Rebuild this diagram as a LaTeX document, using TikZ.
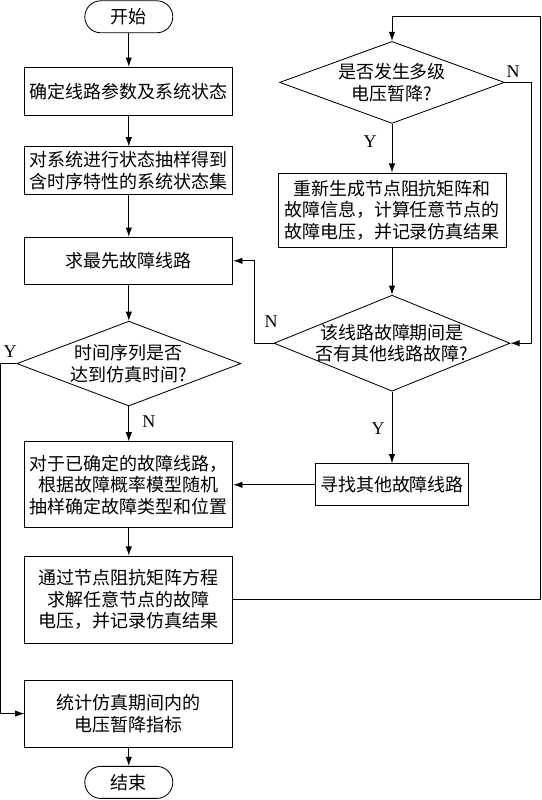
\documentclass[tikz,border=0pt]{standalone}
\usepackage{fontspec}
\setmainfont{Liberation Serif}
\newfontfamily\cjk{Noto Sans CJK SC}
\usepackage{tikz}
\usetikzlibrary{arrows,arrows.meta,shapes,positioning,calc}

\begin{document}
\begin{tikzpicture}[>={Latex[length=2.3mm,width=1.6mm]},line width=0.6pt,
	box/.style={shape=rectangle,draw=black,align=center,inner sep=1pt,font=\cjk\fontsize{12.8}{15.4}\selectfont},
	term/.style={shape=rectangle,draw=black,rounded corners=0.4cm,minimum width=2.2cm,minimum height=0.8cm,font=\cjk\fontsize{12.8}{15.4}\selectfont},
	dec/.style={shape=diamond,draw=black,align=center,inner sep=-0.05cm,font=\cjk\fontsize{12.8}{15.4}\selectfont},
	lbl/.style={inner sep=0pt,font=\fontsize{12.8}{15}\selectfont}]
	\useasboundingbox (0,0) rectangle (13.55,-20);
	% main column
	\node[term](start) at (3.22,-0.42) {开始};
	\node[box,minimum width=5.2cm,minimum height=1.2cm](param) at (3.22,-2.28) {确定线路参数及系统状态};
	\node[box,minimum width=5.2cm,minimum height=1.18cm](sample) at (3.22,-4.26) {对系统进行状态抽样得到\\含时序特性的系统状态集};
	\node[box,minimum width=5.2cm,minimum height=1.18cm](first) at (3.22,-6.52) {求最先故障线路};
	\node[dec,aspect=2.64,minimum width=5.6cm,minimum height=2.12cm](timeok) at (3.22,-9.09) {时间序列是否\\达到仿真时间?};
	\node[box,minimum width=5.2cm,minimum height=2.15cm](fsample) at (3.22,-12.12) {对于已确定的故障线路，\\根据故障概率模型随机\\抽样确定故障类型和位置};
	\node[box,minimum width=5.2cm,minimum height=2.18cm](solve) at (3.22,-14.99) {通过节点阻抗矩阵方程\\求解任意节点的故障\\电压，并记录仿真结果};
	\node[box,minimum width=5.2cm,minimum height=1.68cm](stat) at (3.22,-17.84) {统计仿真期间内的\\电压暂降指标};
	\node[term](stop) at (3.22,-19.56) {结束};
	% right column
	\node[dec,aspect=2.74,minimum width=5.62cm,minimum height=2.05cm](multi) at (9.8,-2.06) {是否发生多级\\电压暂降?};
	\node[box,minimum width=5.7cm,minimum height=1.85cm](regen) at (9.8,-5.25) {重新生成节点阻抗矩阵和\\故障信息，计算任意节点的\\故障电压，并记录仿真结果};
	\node[dec,aspect=2.46,minimum width=5.9cm,minimum height=2.4cm](other) at (9.8,-8.58) {该线路故障期间是\\否有其他线路故障?};
	\node[box,minimum width=3.82cm,minimum height=1.05cm](find) at (9.8,-12.12) {寻找其他故障线路};
	\coordinate (rt) at (13.52,-0.4);
	% labels
	\node[lbl](ytime) at (0.25,-8.8) {Y};
	\node[lbl](ntime) at (3.72,-10.55) {N};
	\node[lbl](nmulti) at (12.83,-1.8) {N};
	\node[lbl](ymulti) at (9.25,-3.55) {Y};
	\node[lbl](nother) at (6.78,-8.05) {N};
	\node[lbl](yother) at (9.45,-10.72) {Y};
	% connectors
	\path[->](start) edge (param);
	\path[->](param) edge (sample);
	\path[->](sample) edge (first);
	\path[->](first) edge (timeok);
	\path[->](timeok) edge (fsample);
	\path[->](fsample) edge (solve);
	\path[->](stat) edge (stop);
	\draw[->](timeok.west) -- ++(-0.39,0) |- (stat.west);
	\draw[->](solve.east) -| (rt) -| (multi.north);
	\path[->](multi) edge (regen);
	\path[->](regen) edge (other);
	\path[->](other) edge (find);
	\path[->](find) edge (fsample);
	\draw[->](multi.east) -- ++(0.66,0) |- (other.east);
	\draw[->](other.west) -- ++(-0.47,0) |- (first.east);
\end{tikzpicture}
\end{document}
